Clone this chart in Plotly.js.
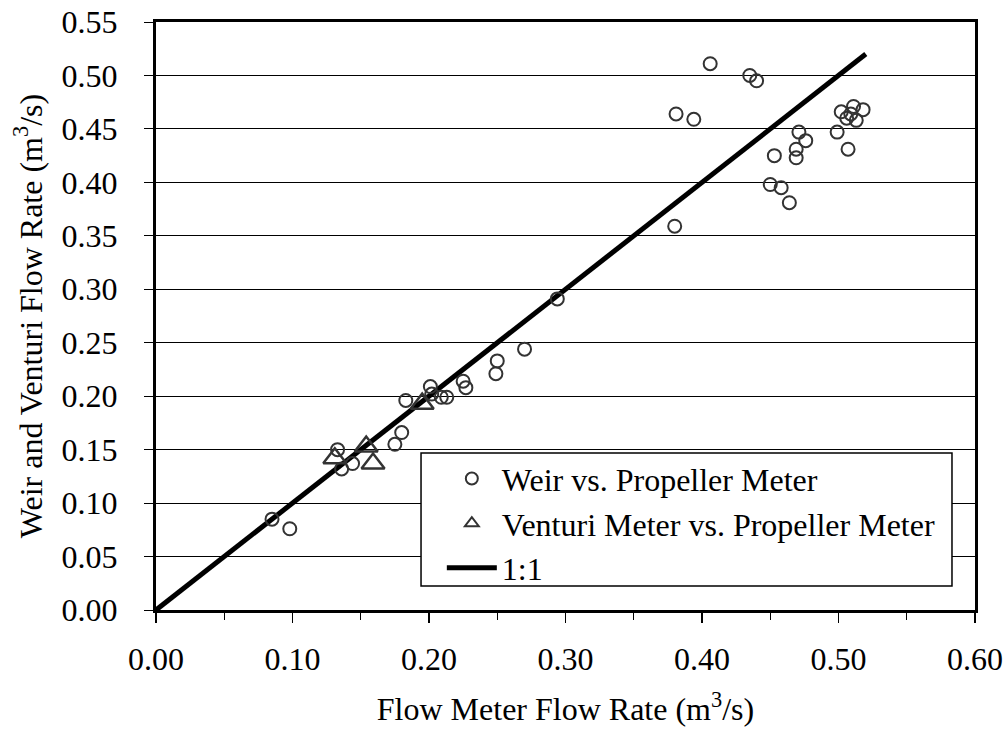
<!DOCTYPE html>
<html>
<head>
<meta charset="utf-8">
<script src="https://cdn.plot.ly/plotly-3.0.1.min.js"></script>
<style>
  html, body { margin: 0; padding: 0; background: #ffffff; }
  #chart { width: 1008px; height: 729px; }
</style>
</head>
<body>
<div id="chart"></div>
<script>
// Weir measurements plotted against the propeller flow meter (m^3/s)
const weirFlowMeter = [0.085, 0.098, 0.133, 0.136, 0.144, 0.175, 0.180, 0.183, 0.201, 0.202,
  0.209, 0.213, 0.225, 0.227, 0.249, 0.250, 0.270, 0.294, 0.380, 0.381,
  0.394, 0.406, 0.435, 0.440, 0.450, 0.453, 0.458, 0.464, 0.469, 0.469,
  0.471, 0.476, 0.499, 0.502, 0.506, 0.507, 0.509, 0.511, 0.513, 0.518];
const weirRate = [0.085, 0.076, 0.150, 0.132, 0.137, 0.155, 0.166, 0.196, 0.209, 0.202,
  0.199, 0.199, 0.214, 0.208, 0.221, 0.233, 0.244, 0.291, 0.359, 0.464,
  0.459, 0.511, 0.500, 0.495, 0.398, 0.425, 0.395, 0.381, 0.423, 0.431,
  0.447, 0.439, 0.447, 0.466, 0.460, 0.431, 0.464, 0.471, 0.458, 0.468];

// Venturi meter measurements against the propeller flow meter (m^3/s)
const venturiFlowMeter = [0.131, 0.154, 0.159, 0.195];
const venturiRate = [0.142, 0.153, 0.137, 0.193];

// Line of perfect agreement
const oneToOne = [0, 0.52];

const xTickVals = [0, 0.1, 0.2, 0.3, 0.4, 0.5, 0.6];
const yTickVals = [0, 0.05, 0.1, 0.15, 0.2, 0.25, 0.3, 0.35, 0.4, 0.45, 0.5, 0.55];

const FONT = '"Liberation Serif", "Times New Roman", serif';
const FS = 32;
const markColor = '#333333';

const traces = [
  {
    x: oneToOne, y: oneToOne, type: 'scatter', mode: 'lines', name: '1:1',
    line: { color: '#000000', width: 5 }, legendrank: 3
  },
  {
    x: weirFlowMeter, y: weirRate, type: 'scatter', mode: 'markers',
    name: 'Weir vs. Propeller Meter', legendrank: 1,
    marker: { symbol: 'circle-open', size: 13, color: markColor, line: { width: 2, color: markColor } }
  },
  {
    x: venturiFlowMeter, y: venturiRate, type: 'scatter', mode: 'markers',
    name: 'Venturi Meter vs. Propeller Meter', legendrank: 2,
    marker: { symbol: 'triangle-up-open', size: 20, color: markColor, line: { width: 2.5, color: markColor } }
  }
];

const layout = {
  width: 1008, height: 729,
  paper_bgcolor: '#ffffff', plot_bgcolor: '#ffffff',
  font: { family: FONT, size: FS, color: '#000000' },
  margin: { l: 156, r: 33, t: 22, b: 119 },
  showlegend: true,
  legend: {
    x: 0.349, y: 0.27, xanchor: 'left', yanchor: 'top',
    bgcolor: 'rgba(0,0,0,0)', borderwidth: 0,
    font: { family: FONT, size: FS, color: '#000000' },
    itemsizing: 'constant', itemwidth: 50, traceorder: 'normal'
  },
  // legend frame
  shapes: [{
    type: 'rect', xref: 'paper', yref: 'paper', layer: 'above',
    x0: 0.3236, x1: 0.9719, y0: 0.0408, y1: 0.267,
    line: { color: '#000000', width: 1.5 }, fillcolor: '#ffffff'
  }],
  xaxis: {
    range: [0, 0.6], tickvals: xTickVals, tickformat: '.2f',
    showgrid: false, zeroline: false,
    showline: true, linecolor: '#000000', linewidth: 3, mirror: true,
    ticks: 'outside', ticklen: 10, tickwidth: 1.5, tickcolor: '#000000',
    minor: { dtick: 0.05, tick0: 0, ticks: 'outside', ticklen: 7, tickwidth: 1, tickcolor: '#000000', showgrid: false },
    ticklabelstandoff: 9,
    title: { text: 'Flow Meter Flow Rate (m<sup>3</sup>/s)', font: { family: FONT, size: FS }, standoff: 22 }
  },
  xaxis2: {
    overlaying: 'x', anchor: 'y', side: 'bottom',
    range: [0, 0.6], tickvals: xTickVals,
    showgrid: false, zeroline: false, showline: false, showticklabels: false,
    ticks: 'inside', ticklen: 10, tickwidth: 1.5, tickcolor: '#000000',
    minor: { dtick: 0.05, tick0: 0, ticks: 'inside', ticklen: 7, tickwidth: 1, tickcolor: '#000000', showgrid: false }
  },
  yaxis: {
    range: [0, 0.55], tickvals: yTickVals, tickformat: '.2f',
    showgrid: true, gridcolor: '#000000', gridwidth: 1, zeroline: false,
    showline: true, linecolor: '#000000', linewidth: 3, mirror: true,
    ticks: 'outside', ticklen: 9, tickwidth: 1, tickcolor: '#000000',
    ticklabelstandoff: 20,
    title: { text: 'Weir and Venturi Flow Rate (m<sup>3</sup>/s)', font: { family: FONT, size: FS }, standoff: 10 }
  }
};

Plotly.newPlot('chart', traces, layout, { staticPlot: true, displayModeBar: false });
</script>
</body>
</html>
